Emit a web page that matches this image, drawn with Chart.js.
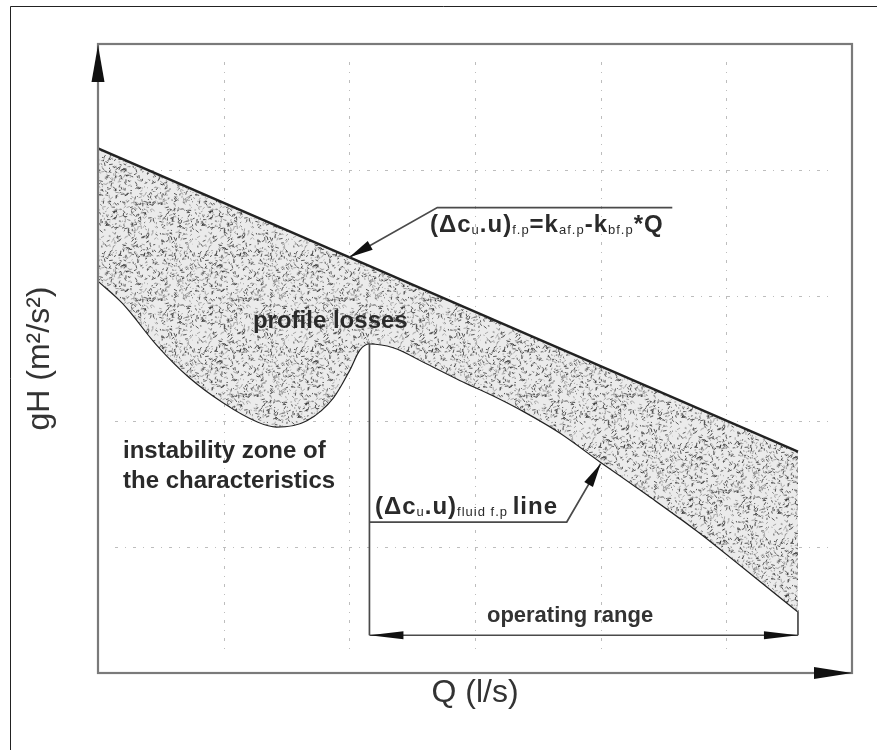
<!DOCTYPE html>
<html>
<head>
<meta charset="utf-8">
<title>gH - Q operating range</title>
<script src="https://cdn.jsdelivr.net/npm/chart.js@4.4.0/dist/chart.umd.min.js"></script>
<style>
  html, body { margin: 0; padding: 0; background: #fff; }
  #wrap { width: 877px; height: 750px; }
</style>
</head>
<body>
<div id="wrap"><canvas id="chart" width="877" height="750"></canvas></div>
<script>
// axes run 0..6 (Q) and 0..5 (gH), one unit per dotted grid cell
const xTicks = [0, 1, 2, 3, 4, 5, 6];
const yTicks = [0, 1, 2, 3, 4, 5];

// (Δcu.u)f.p = kaf.p - kbf.p * Q   (upper straight line)
const upperQ = [0, 5.57];
const upperGH = [4.17, 1.76];

// lower boundary: instability bulge, then the fluid f.p line
const lowerQ = [0, 0.2, 0.47, 0.73, 1.0, 1.27, 1.42, 1.66, 1.87, 2.0, 2.08, 2.16,
                2.35, 2.62, 2.88, 3.14, 3.41, 3.68, 4.0, 4.37, 4.77, 5.16, 5.57];
const lowerGH = [3.12, 2.94, 2.61, 2.35, 2.15, 2.0, 1.96, 2.01, 2.19, 2.41, 2.57, 2.62,
                 2.59, 2.46, 2.33, 2.21, 2.07, 1.91, 1.68, 1.42, 1.13, 0.82, 0.49];

const peakIdx = 11;          // start of the operating range
const fluidArrowIdx = 18;    // where the fluid-line leader points
const formulaArrowQ = 2.0;   // where the formula leader hits the upper line
const operatingGH = 0.30;    // level of the operating range dimension line

const FONT = "'Liberation Sans', Arial, Helvetica, sans-serif";
const INK = '#2a2a2a';

const makeStipple = () => {
    const c = document.createElement('canvas');
    c.width = 96; c.height = 96;
    const g = c.getContext('2d');
    g.fillStyle = '#ebebeb';
    g.fillRect(0, 0, 96, 96);
    let s = 20231;
    const rnd = () => (s = (s * 16807) % 2147483647) / 2147483647;
    g.lineWidth = 1;
    for (let i = 0; i < 950; i++) {
        const x = rnd() * 96, y = rnd() * 96, a = rnd() * Math.PI * 2, l = 1 + rnd() * 2.8;
        g.strokeStyle = rnd() < 0.5 ? 'rgba(40,40,40,0.75)' : 'rgba(120,120,120,0.6)';
        g.beginPath();
        g.moveTo(x, y);
        g.lineTo(x + Math.cos(a) * l, y + Math.sin(a) * l);
        g.stroke();
    }
    return g.createPattern(c, 'repeat');
};

const lerpUpper = (q) => {
    const t = (q - upperQ[0]) / (upperQ[1] - upperQ[0]);
    return upperGH[0] + (upperGH[1] - upperGH[0]) * t;
};

const arrowHead = (ctx, tx, ty, fx, fy, len, half) => {
    const a = Math.atan2(ty - fy, tx - fx);
    ctx.save();
    ctx.translate(tx, ty);
    ctx.rotate(a);
    ctx.beginPath();
    ctx.moveTo(0, 0);
    ctx.lineTo(-len, -half);
    ctx.lineTo(-len, half);
    ctx.closePath();
    ctx.fill();
    ctx.restore();
};

// text made of normal and subscript runs
const drawRuns = (ctx, runs, x, y, size, subSize) => {
    ctx.letterSpacing = '1px';
    for (const r of runs) {
        ctx.font = (r[1] ? '' : 'bold ') + (r[1] ? subSize : size) + 'px ' + FONT;
        ctx.fillText(r[0], x, y + (r[1] ? 2 : 0));
        x += ctx.measureText(r[0]).width;
    }
    ctx.letterSpacing = '0px';
};

const schematic = {
    id: 'schematic',
    beforeDraw(chart) {
        const ctx = chart.ctx;
        ctx.save();
        ctx.strokeStyle = '#222';
        ctx.lineWidth = 1;
        ctx.beginPath();
        ctx.moveTo(10.5, 750);
        ctx.lineTo(10.5, 6.5);
        ctx.lineTo(877, 6.5);
        ctx.stroke();
        ctx.restore();
    },
    beforeDatasetsDraw(chart) {
        const {ctx, chartArea: a, scales: {x, y}} = chart;
        ctx.save();
        ctx.strokeStyle = '#bdbdbd';
        ctx.lineWidth = 1;
        ctx.setLineDash([3, 7, 1, 7]);
        xTicks.slice(1, -1).forEach(v => {
            const px = Math.round(x.getPixelForValue(v)) + 0.5;
            ctx.beginPath();
            ctx.moveTo(px, a.top + 18);
            ctx.lineTo(px, a.bottom - 20);
            ctx.stroke();
        });
        yTicks.slice(1, -1).forEach(v => {
            const py = Math.round(y.getPixelForValue(v)) + 0.5;
            ctx.beginPath();
            ctx.moveTo(a.left + 17, py);
            ctx.lineTo(a.right - 17, py);
            ctx.stroke();
        });
        ctx.restore();
    },
    afterDatasetsDraw(chart) {
        const {ctx, chartArea: a, scales: {x, y}} = chart;
        const X = v => x.getPixelForValue(v);
        const Y = v => y.getPixelForValue(v);
        ctx.save();

        // plot frame
        ctx.strokeStyle = '#7a7a7a';
        ctx.lineWidth = 2.2;
        ctx.strokeRect(a.left, a.top, a.right - a.left, a.bottom - a.top);
        ctx.fillStyle = '#111';
        arrowHead(ctx, a.left, a.top + 1, a.left, a.top + 60, 37, 6.5);
        arrowHead(ctx, a.right, a.bottom, a.right - 60, a.bottom, 38, 6);

        // operating range dimension
        const q0 = lowerQ[peakIdx], q1 = lowerQ[lowerQ.length - 1];
        const yo = Y(operatingGH);
        ctx.strokeStyle = '#4a4a4a';
        ctx.lineWidth = 1.7;
        ctx.beginPath();
        ctx.moveTo(X(q0), Y(lowerGH[peakIdx]));
        ctx.lineTo(X(q0), yo);
        ctx.moveTo(X(q0), yo);
        ctx.lineTo(X(q1), yo);
        ctx.moveTo(X(q1), Y(lowerGH[lowerGH.length - 1]));
        ctx.lineTo(X(q1), yo);
        ctx.stroke();
        ctx.fillStyle = '#111';
        arrowHead(ctx, X(q0), yo, X(q1), yo, 34, 4);
        arrowHead(ctx, X(q1), yo, X(q0), yo, 34, 4);

        // leader to the upper line
        const tipA = [X(formulaArrowQ), Y(lerpUpper(formulaArrowQ))];
        const elbowA = [X(2.7), Y(3.7)];
        ctx.beginPath();
        ctx.moveTo(tipA[0], tipA[1]);
        ctx.lineTo(elbowA[0], elbowA[1]);
        ctx.lineTo(X(4.57), elbowA[1]);
        ctx.stroke();
        arrowHead(ctx, tipA[0], tipA[1], elbowA[0], elbowA[1], 24, 5);

        // leader to the fluid line
        const tipB = [X(lowerQ[fluidArrowIdx]), Y(lowerGH[fluidArrowIdx]) + 2];
        const elbowB = [X(3.73), Y(1.2)];
        ctx.beginPath();
        ctx.moveTo(tipB[0], tipB[1]);
        ctx.lineTo(elbowB[0], elbowB[1]);
        ctx.lineTo(X(q0), elbowB[1]);
        ctx.stroke();
        arrowHead(ctx, tipB[0], tipB[1], elbowB[0], elbowB[1], 24, 5);

        // labels
        ctx.fillStyle = INK;
        ctx.textBaseline = 'alphabetic';
        ctx.textAlign = 'left';
        ctx.font = 'bold 24px ' + FONT;
        ctx.fillText('profile losses', X(1.233), Y(2.742));
        ctx.fillText('instability zone of', X(0.199), Y(1.709));
        ctx.fillText('the characteristics', X(0.199), Y(1.471));
        ctx.font = 'bold 22px ' + FONT;
        ctx.fillStyle = '#333';
        ctx.fillText('operating range', X(3.095), Y(0.405));

        ctx.fillStyle = INK;
        drawRuns(ctx, [['(Δc', 0], ['u', 1], ['.u)', 0], ['f.p', 1], ['=k', 0], ['af.p', 1],
                       ['-k', 0], ['bf.p', 1], ['*Q', 0]], X(2.642), Y(3.506), 24, 13);
        drawRuns(ctx, [['(Δc', 0], ['u', 1], ['.u)', 0], ['fluid f.p ', 1], ['line', 0]],
                 X(2.204), Y(1.264), 24, 13);
        ctx.restore();
    }
};

const ctx = document.getElementById('chart').getContext('2d');
const stipple = makeStipple();

new Chart(ctx, {
    type: 'line',
    data: {
        datasets: [
            {
                label: 'upper',
                data: upperQ.map((q, i) => ({x: q, y: upperGH[i]})),
                borderColor: '#222',
                borderWidth: 2.4,
                pointRadius: 0,
                fill: '+1',
                backgroundColor: stipple
            },
            {
                label: 'lower',
                data: lowerQ.map((q, i) => ({x: q, y: lowerGH[i]})),
                borderColor: '#222',
                borderWidth: 2.4,
                pointRadius: 0,
                cubicInterpolationMode: 'monotone',
                fill: false
            }
        ]
    },
    options: {
        responsive: false,
        animation: false,
        layout: {padding: {left: 10, top: 44, right: 25, bottom: 0}},
        plugins: {legend: {display: false}, tooltip: {enabled: false}},
        scales: {
            x: {
                type: 'linear', min: 0, max: 6,
                ticks: {display: false, stepSize: 1},
                grid: {display: false},
                border: {display: false},
                title: {display: true, text: 'Q (l/s)', color: '#333',
                        font: {family: FONT, size: 32}, padding: {top: 0, bottom: 38}},
                afterFit: s => { s.height = 77; }
            },
            y: {
                type: 'linear', min: 0, max: 5,
                ticks: {display: false, stepSize: 1},
                grid: {display: false},
                border: {display: false},
                title: {display: true, text: 'gH (m²/s²)', color: '#333',
                        font: {family: FONT, size: 32}, padding: {top: 11, bottom: 0}},
                afterFit: s => { s.width = 88; }
            }
        }
    },
    plugins: [schematic]
});
</script>
</body>
</html>
